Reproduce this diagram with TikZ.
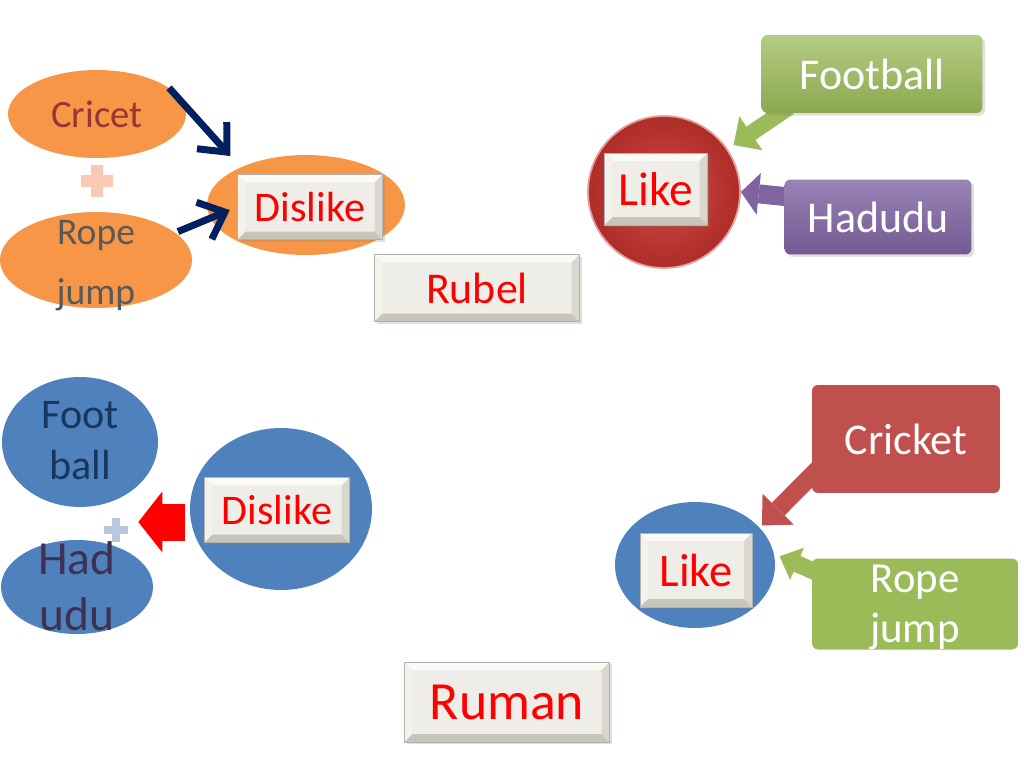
\documentclass[tikz,border=0pt]{standalone}
\usepackage{fontspec}
\setmainfont{Carlito}
\usetikzlibrary{arrows.meta, shapes.geometric, shadows, backgrounds}

\definecolor{sportorange}{HTML}{F79646}
\definecolor{cricetred}{HTML}{953735}
\definecolor{ropegray}{HTML}{595959}
\definecolor{arrownavy}{HTML}{002060}
\definecolor{pluspink}{HTML}{F8C9B3}
\definecolor{plusblue}{HTML}{B8C8DE}
\definecolor{likered}{HTML}{CC3F39}
\definecolor{likereddark}{HTML}{AE2D29}
\definecolor{leafgreen}{HTML}{9BBB59}
\definecolor{grape}{HTML}{8064A2}
\definecolor{skyblue}{HTML}{4F81BD}
\definecolor{brick}{HTML}{C0504D}
\definecolor{footnavy}{HTML}{17375E}
\definecolor{hadplum}{HTML}{3F3151}
\definecolor{bevmid}{HTML}{EEEDE7}
\definecolor{bevtop}{HTML}{FBFAF7}
\definecolor{bevleft}{HTML}{F3F2EC}
\definecolor{bevright}{HTML}{D9D7CE}
\definecolor{bevbottom}{HTML}{C7C4BA}

\newcommand{\bevw}{4.5pt}

\begin{document}
\begin{tikzpicture}[x=0.02cm, y=-0.02cm,
    sz/.style 2 args={font=\fontsize{#1}{#2}\selectfont},
    blob/.style={ellipse, inner sep=0pt},
    bevelbox/.style={draw=black!30, fill=bevmid, text=red, inner sep=0pt,
      drop shadow={opacity=0.25, shadow xshift=1.2pt, shadow yshift=-1.2pt},
      path picture={
        \path (path picture bounding box.north west) coordinate (nw)
              (path picture bounding box.north east) coordinate (ne)
              (path picture bounding box.south west) coordinate (sw)
              (path picture bounding box.south east) coordinate (se);
        \fill[bevtop] (nw) -- (ne) -- ([xshift=-\bevw, yshift=-\bevw]ne)
          -- ([xshift=\bevw, yshift=-\bevw]nw) -- cycle;
        \fill[bevleft] (nw) -- (sw) -- ([xshift=\bevw, yshift=\bevw]sw)
          -- ([xshift=\bevw, yshift=-\bevw]nw) -- cycle;
        \fill[bevbottom] (sw) -- (se) -- ([xshift=-\bevw, yshift=\bevw]se)
          -- ([xshift=\bevw, yshift=\bevw]sw) -- cycle;
        \fill[bevright] (ne) -- (se) -- ([xshift=-\bevw, yshift=\bevw]se)
          -- ([xshift=-\bevw, yshift=-\bevw]ne) -- cycle;
      }},
    tile/.style={rounded corners=0.12cm, inner sep=0pt, text=white},
    navyarrow/.style={arrownavy, line width=0.14cm,
      -{Straight Barb[length=0.45cm, width=0.8cm]}},
    blockarrow/.style n args={4}{#1, line width=#2,
      -{Triangle[length=#3, width=#4, line width=0pt]}},
  ]
  \useasboundingbox (0,0) rectangle (1024,768);

  % Rubel: what he dislikes
  \node[blob, fill=sportorange, minimum width=3.56cm, minimum height=1.76cm] (cricetOval) at (97,114) {};
  \node[blob, fill=sportorange, minimum width=3.84cm, minimum height=1.92cm] (ropeOval) at (96,260) {};
  \node[blob, fill=sportorange, minimum width=3.96cm, minimum height=2.0cm] (dislikeOval) at (306,205) {};
  \node[sz={22}{26}, text=cricetred] (cricetText) at (cricetOval) {Cricet};
  \node[sz={21.4}{34}, text=ropegray, align=center] (ropeText) at (96,266) {Rope\\jump};
  \node[minimum size=0.62cm, inner sep=0pt] (plusTop) at (97,181) {};
  \draw[pluspink, line width=0.24cm] (plusTop.west) -- (plusTop.east)
    (plusTop.north) -- (plusTop.south);

  % Rubel: what he likes
  \node[circle, minimum size=3.04cm, inner color=likered!95!white, outer color=likereddark,
        draw=likered!50!white, line width=1pt] (likeRing) at (664,192) {};
  \node[tile, top color=leafgreen!75!white, bottom color=leafgreen!90!black,
        minimum width=4.42cm, minimum height=1.56cm, sz={25}{30},
        drop shadow={opacity=0.25, shadow xshift=1.5pt, shadow yshift=-1.5pt}] (football) at (872,74) {Football};
  \node[tile, top color=grape!80!white, bottom color=grape!90!black,
        minimum width=3.74cm, minimum height=1.5cm, sz={25}{30},
        drop shadow={opacity=0.25, shadow xshift=1.5pt, shadow yshift=-1.5pt}] (hadudu) at (878,217) {Hadudu};

  % Ruman: what he dislikes
  \node[blob, fill=skyblue, minimum width=3.12cm, minimum height=2.6cm] (footOval) at (80,442) {};
  \node[blob, fill=skyblue, minimum width=3.04cm, minimum height=1.88cm] (hadOval) at (77,587) {};
  \node[blob, fill=skyblue, minimum width=3.64cm, minimum height=3.24cm] (dislikeRing) at (281,509) {};
  \node[minimum size=0.48cm, inner sep=0pt] (plusLow) at (116,530) {};
  \draw[plusblue, line width=0.16cm] (plusLow.west) -- (plusLow.east)
    (plusLow.north) -- (plusLow.south);
  \node[sz={24}{29}, text=footnavy, align=center] (footText) at (80,441) {Foot\\ball};
  \node[sz={27}{32}, text=hadplum, align=center] (hadText) at (77,586) {Had\\udu};

  % Ruman: what he likes
  \node[blob, fill=skyblue, minimum width=3.2cm, minimum height=2.52cm] (likeOval) at (695,565) {};
  \node[tile, fill=brick, minimum width=3.76cm, minimum height=2.16cm, sz={25}{30}] (cricket) at (906,439) {Cricket};
  \node[tile, fill=leafgreen, minimum width=4.12cm, minimum height=1.76cm, sz={24.4}{28},
        align=center] (ropeLow) at (915,604) {\strut Rope\\jump};

  % Bevelled boxes
  \foreach \nm/\x/\y/\w/\h/\fsz/\txt in {
      dislikeTop/310/207/2.9/1.3/24/Dislike, rubel/477/288/4.1/1.34/25/Rubel,
      likeTop/656/189/2.06/1.44/27/Like, dislikeLow/277/510/2.9/1.3/24/Dislike,
      likeLow/696/570/2.24/1.48/26.5/Like, ruman/507/702/4.1/1.6/30.6/Ruman} {
    \node[bevelbox, sz={\fsz}{\fsz}, minimum width=\w cm, minimum height=\h cm]
      (\nm) at (\x,\y) {\txt};
  }

  % Arrows
  \draw[navyarrow, shorten >=0.3cm] (cricetOval.20) -- (dislikeOval.150);
  \draw[navyarrow, shorten >=0.16cm] ([shift={(4,0)}]ropeOval.20) -- (dislikeTop.west);

  \begin{pgfonlayer}{background}
    \draw[blockarrow={leafgreen}{0.32cm}{0.42cm}{0.82cm}, shorten >=0.14cm]
      ([shift={(28,-6)}]football.south west) -- (likeRing.34);
    \draw[blockarrow={grape}{0.38cm}{0.36cm}{0.84cm}]
      ([shift={(15,-19)}]hadudu.west) -- (likeRing.east);
    \draw[blockarrow={red}{0.74cm}{0.48cm}{1.22cm}]
      ([shift={(-5,13)}]dislikeRing.west) -- ([shift={(10,-8)}]plusLow.east);
    \draw[blockarrow={brick}{0.36cm}{0.46cm}{0.88cm}, shorten >=0.06cm]
      ([shift={(13,-31)}]cricket.south west) -- (likeOval.30);
    \draw[blockarrow={leafgreen}{0.34cm}{0.38cm}{0.7cm}, shorten >=0.12cm]
      ([shift={(18,-26)}]ropeLow.west) -- (likeOval.8);
  \end{pgfonlayer}
\end{tikzpicture}
\end{document}
